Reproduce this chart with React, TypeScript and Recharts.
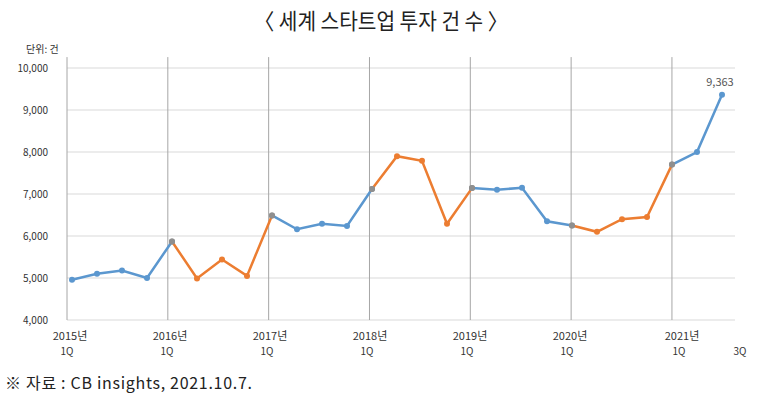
import React from "react";
import {
  LineChart,
  Line,
  XAxis,
  YAxis,
  CartesianGrid,
  ReferenceLine,
  LabelList,
} from "recharts";

// quarterly deal counts, 2015 1Q .. 2021 3Q
const values = [
  4960, 5100, 5180, 5000, 5870, 4990, 5440, 5050, 6490, 6160, 6290, 6240,
  7120, 7900, 7790, 6290, 7140, 7100, 7150, 6350, 6250, 6100, 6400, 6450,
  7700, 8000, 9363,
];
const years = ["2015", "2016", "2017", "2018", "2019", "2020", "2021"];
// colour used for the segment running through each year
const yearColors = ["blue", "orange", "blue", "orange", "blue", "orange", "blue"];
const yTicks = [4000, 5000, 6000, 7000, 8000, 9000, 10000];

const BLUE = "#5b97cf";
const ORANGE = "#ec7d31";
const GRAY = "#8f8f8f";
const FONT = "'Noto Sans CJK KR', 'Noto Sans', sans-serif";

// split into two series that share the 1Q point where the colour changes
const chartData = values.map((v, i) => {
  const y = Math.floor(i / 4);
  const isStart = i % 4 === 0 && i > 0;
  const cur = yearColors[Math.min(y, yearColors.length - 1)];
  const prev = isStart ? yearColors[y - 1] : null;
  return {
    idx: i,
    blue: cur === "blue" || prev === "blue" ? v : null,
    orange: cur === "orange" || prev === "orange" ? v : null,
  };
});

const xTicks = [...years.map((_, k) => k * 4), values.length - 1];

function renderDot(color: string) {
  return (props: any) => {
    const { cx, cy, index, value } = props;
    if (value == null || cx == null || cy == null) return <g key={index} />;
    const junction = index % 4 === 0 && index > 0 && index < values.length - 1;
    return (
      <circle key={index} cx={cx} cy={cy} r={3} fill={junction ? GRAY : color} stroke="none" />
    );
  };
}

function XTick(props: any) {
  const { x, y, payload } = props;
  const i = payload.value as number;
  const year = i % 4 === 0 ? years[i / 4] : null;
  const shift = i === 24 ? 12 : 0;
  return (
    <g>
      {year && (
        <text x={x - 2 + shift} y={y + 12} textAnchor="middle" fontSize={11} fill="#333" fontFamily={FONT}>
          {year}년
        </text>
      )}
      <text x={year ? x - 5 + shift : x + 18} y={y + 27} textAnchor="middle" fontSize={10} fill="#333" fontFamily={FONT}>
        {year ? "1Q" : "3Q"}
      </text>
    </g>
  );
}

export default function App() {
  return (
    <div style={{ position: "relative", width: 784, height: 398, background: "#fff", fontFamily: FONT }}>
      <style>{`body{margin:0}`}</style>
      <div
        style={{
          position: "absolute",
          left: 0,
          top: 3,
          width: 784,
          textAlign: "center",
          fontSize: 22,
          color: "#222",
        }}
      >
        <span style={{ display: "inline-block", transform: "scaleX(0.92)", marginLeft: -23 }}>
          〈 세계 스타트업 투자 건 수 〉
        </span>
      </div>
      <div style={{ position: "absolute", left: 26, top: 41, fontSize: 10, color: "#333" }}>
        단위: 건
      </div>

      <LineChart
        width={784}
        height={398}
        data={chartData}
        margin={{ top: 68, right: 49, left: 7, bottom: 38 }}
      >
        <CartesianGrid vertical={false} stroke="#d9d9d9" />
        <XAxis
          dataKey="idx"
          type="number"
          domain={[-0.2, 26.52]}
          ticks={xTicks}
          tick={<XTick />}
          axisLine={false}
          tickLine={false}
          height={40}
          interval={0}
        />
        <YAxis
          domain={[4000, 10000]}
          ticks={yTicks}
          width={60}
          axisLine={false}
          tickLine={false}
          tickMargin={13}
          tickFormatter={(v: number) => v.toLocaleString("en-US")}
          tick={{ fontSize: 10, fill: "#333", fontFamily: FONT }}
        />
        {years.map((y, k) => (
          <ReferenceLine
            key={y}
            segment={[
              { x: -0.2 + 4.033 * k, y: 4000 },
              { x: -0.2 + 4.033 * k, y: 10260 },
            ]}
            stroke="#a6a6a6"
            ifOverflow="visible"
          />
        ))}
        <Line
          dataKey="blue"
          stroke={BLUE}
          strokeWidth={2.5}
          dot={renderDot(BLUE)}
          activeDot={false}
          connectNulls={false}
          isAnimationActive={false}
        >
          <LabelList
            dataKey="blue"
            content={(p: any) =>
              p.index === values.length - 1 ? (
                <text x={p.x - 2} y={p.y - 9} textAnchor="middle" fontSize={11} fill="#555" fontFamily={FONT}>
                  {Number(p.value).toLocaleString("en-US")}
                </text>
              ) : null
            }
          />
        </Line>
        <Line
          dataKey="orange"
          stroke={ORANGE}
          strokeWidth={2.5}
          dot={renderDot(ORANGE)}
          activeDot={false}
          connectNulls={false}
          isAnimationActive={false}
        />
      </LineChart>

      <div
        style={{
          position: "absolute",
          left: 5,
          top: 370,
          fontSize: 16,
          letterSpacing: 0.7,
          color: "#222",
          whiteSpace: "nowrap",
        }}
      >
        ※ 자료 : CB insights, 2021.10.7.
      </div>
    </div>
  );
}
